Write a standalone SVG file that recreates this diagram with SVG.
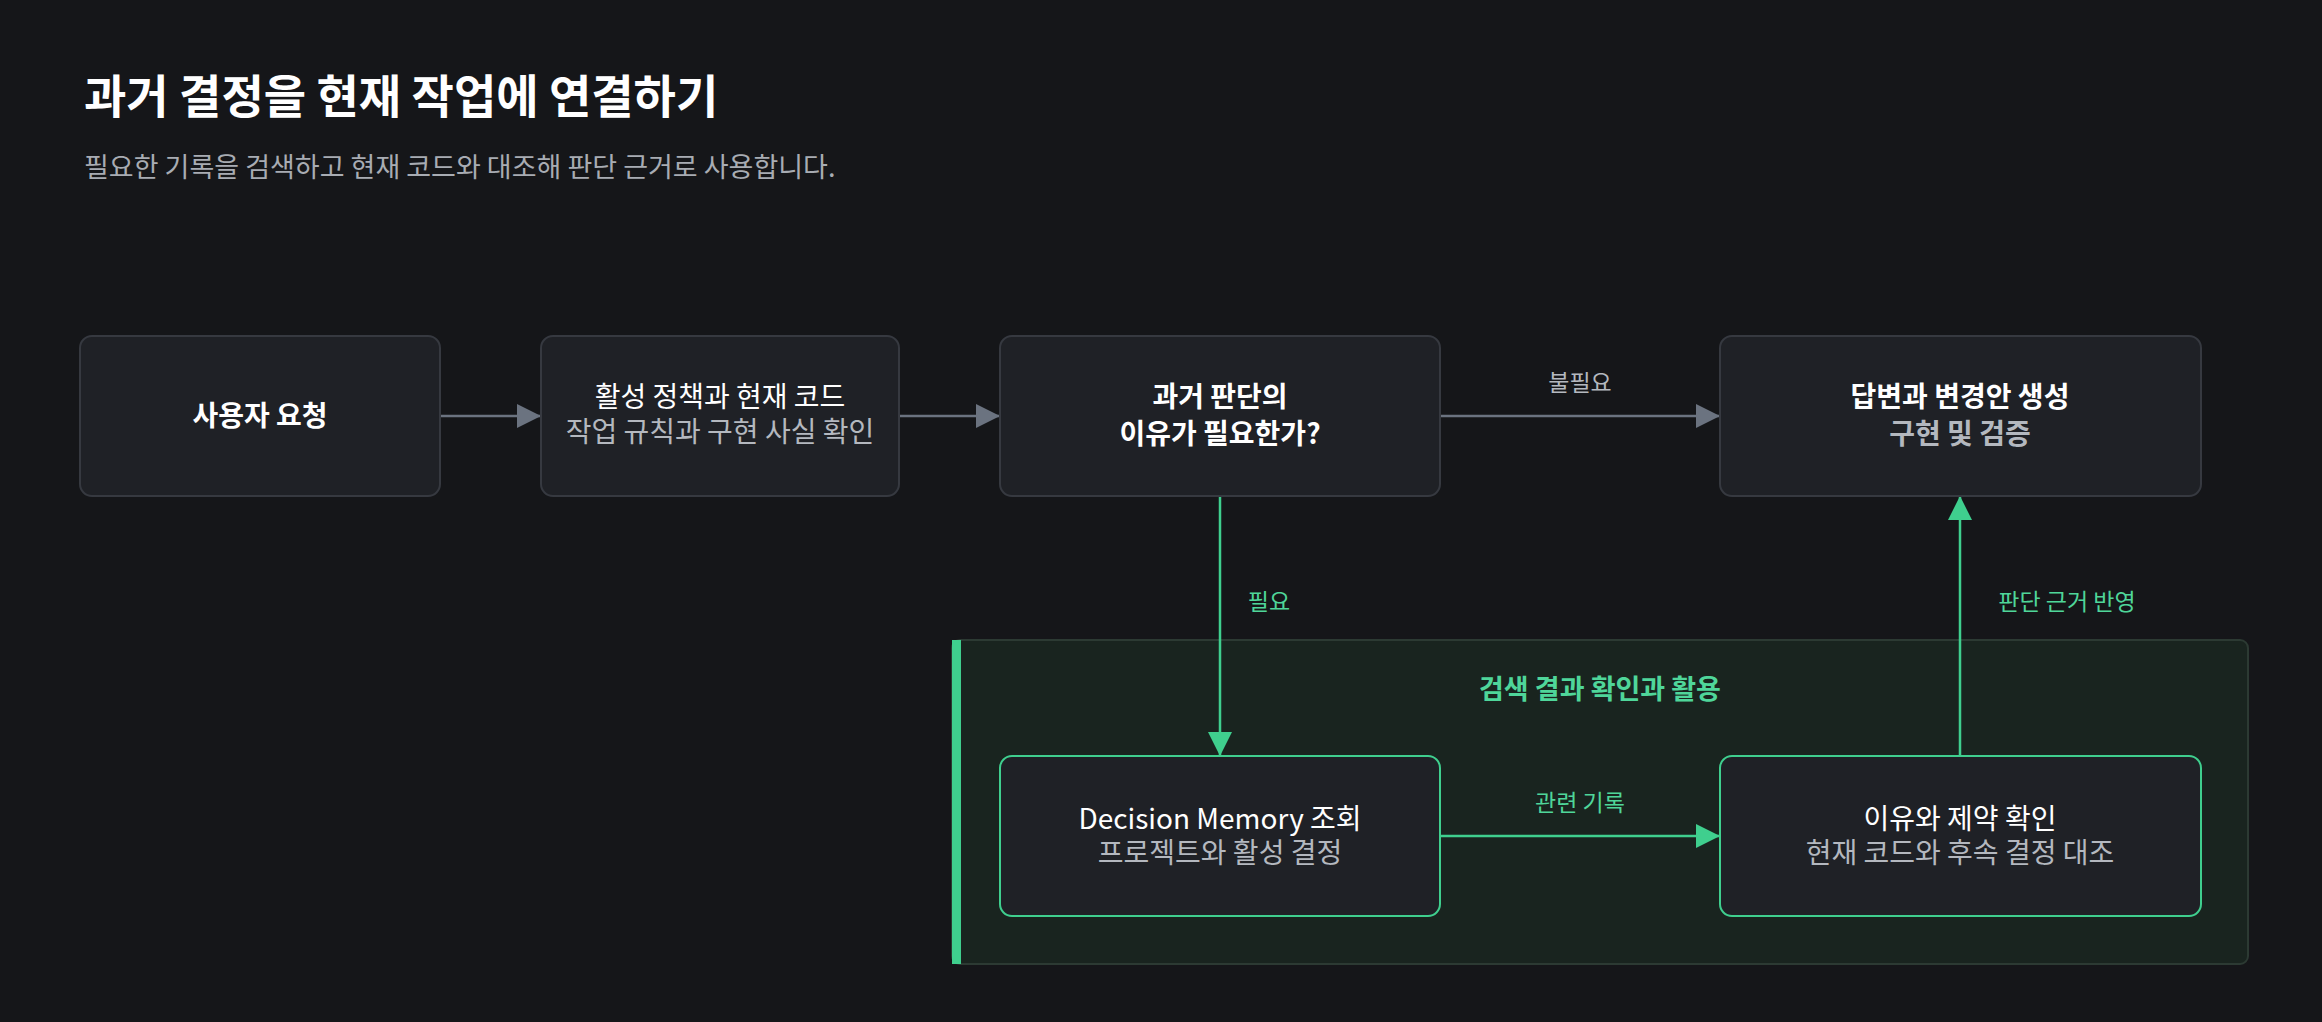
<svg xmlns="http://www.w3.org/2000/svg" width="2322" height="1022" viewBox="0 0 2322 1022">
<defs>
<style>
text{font-family:"Noto Sans CJK KR","Noto Sans",sans-serif;text-anchor:middle}
.node{fill:#1f2126;stroke:#363940;stroke-width:2}
.gnode{fill:#1f2126;stroke:#3fcf8e;stroke-width:2}
.t{fill:#ffffff;font-size:28px}
.b{font-weight:700}
.s{fill:#b4b8bf;font-size:28px}
.lbl{font-size:23px}
.gray{stroke:#6b7380;stroke-width:2.5;fill:none}
.green{stroke:#3fcf8e;stroke-width:2.5;fill:none}
</style>
<marker id="ag" markerWidth="24" markerHeight="24" refX="23" refY="12" orient="auto" markerUnits="userSpaceOnUse" viewBox="0 0 24 24"><path d="M0,0L24,12L0,24z" fill="#6b7380"/></marker>
<marker id="agr" markerWidth="24" markerHeight="24" refX="23" refY="12" orient="auto" markerUnits="userSpaceOnUse" viewBox="0 0 24 24"><path d="M0,0L24,12L0,24z" fill="#3fcf8e"/></marker>
</defs>
<rect width="2322" height="1022" fill="#151619"/>
<text x="84" y="113" style="text-anchor:start;font-size:46px;font-weight:700" fill="#ffffff">과거 결정을 현재 작업에 연결하기</text>
<text x="84" y="177" style="text-anchor:start;font-size:27px" fill="#a8acb3">필요한 기록을 검색하고 현재 코드와 대조해 판단 근거로 사용합니다.</text>

<g id="group">
<rect x="952" y="640" width="1296" height="324" rx="8" fill="#19241f" stroke="#2c3a33" stroke-width="2"/>
<rect x="952" y="640" width="9" height="324" fill="#3fcf8e"/>
<text x="1600" y="699" class="b" style="font-size:27px" fill="#4fd69a">검색 결과 확인과 활용</text>
</g>

<g id="connectors">
<line x1="440" y1="416" x2="540" y2="416" class="gray" marker-end="url(#ag)"/>
<line x1="899" y1="416" x2="999" y2="416" class="gray" marker-end="url(#ag)"/>
<line x1="1440" y1="416" x2="1719" y2="416" class="gray" marker-end="url(#ag)"/>
<text x="1580" y="391" class="lbl" fill="#b4b8bf">불필요</text>
<line x1="1220" y1="496" x2="1220" y2="755" class="green" marker-end="url(#agr)"/>
<text x="1269" y="610" class="lbl" fill="#4fd69a">필요</text>
<line x1="1440" y1="836" x2="1719" y2="836" class="green" marker-end="url(#agr)"/>
<text x="1580" y="811" class="lbl" fill="#4fd69a">관련 기록</text>
<line x1="1960" y1="755" x2="1960" y2="497" class="green" marker-end="url(#agr)"/>
<text x="2067" y="610" class="lbl" fill="#4fd69a">판단 근거 반영</text>
</g>

<g id="n1"><rect x="80" y="336" width="360" height="160" rx="12" class="node"/>
<text x="260" y="426" class="t b">사용자 요청</text></g>
<g id="n2"><rect x="541" y="336" width="358" height="160" rx="12" class="node"/>
<text x="720" y="407" class="t">활성 정책과 현재 코드</text>
<text x="720" y="442" class="s">작업 규칙과 구현 사실 확인</text></g>
<g id="n3"><rect x="1000" y="336" width="440" height="160" rx="12" class="node"/>
<text x="1220" y="407" class="t b">과거 판단의</text>
<text x="1220" y="444" class="t b">이유가 필요한가?</text></g>
<g id="n4"><rect x="1720" y="336" width="481" height="160" rx="12" class="node"/>
<text x="1960" y="407" class="t b">답변과 변경안 생성</text>
<text x="1960" y="444" class="s b">구현 및 검증</text></g>
<g id="n5"><rect x="1000" y="756" width="440" height="160" rx="12" class="gnode"/>
<text x="1220" y="829" class="t">Decision Memory 조회</text>
<text x="1220" y="863" class="s">프로젝트와 활성 결정</text></g>
<g id="n6"><rect x="1720" y="756" width="481" height="160" rx="12" class="gnode"/>
<text x="1960" y="829" class="t">이유와 제약 확인</text>
<text x="1960" y="863" class="s">현재 코드와 후속 결정 대조</text></g>
</svg>
